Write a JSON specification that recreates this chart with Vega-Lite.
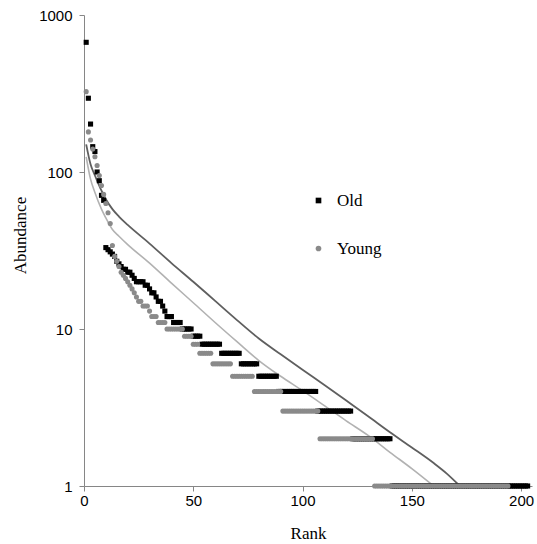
{
"$schema":"https://vega.github.io/schema/vega-lite/v6.json",
"width":448,"height":471,
"autosize":"none",
"padding":{"left":84,"top":15,"right":5,"bottom":58},
"background":"white",
"config":{"view":{"stroke":null},"axis":{"grid":false,"domainColor":"#868686","tickColor":"#868686","labelFont":"Liberation Sans","labelFontSize":15,"labelColor":"#000000","titleFont":"Liberation Serif","titleFontSize":17,"titleFontWeight":"normal","titleColor":"#000000","tickSize":5,"labelFlush":false}},
"datasets":{
"fitOld":[{"r":1,"a":150},{"r":3,"a":112},{"r":5,"a":95},{"r":8,"a":76},{"r":10,"a":67},{"r":13,"a":58},{"r":16,"a":52},{"r":20,"a":46},{"r":30,"a":35},{"r":40,"a":26.3},{"r":50,"a":20},{"r":60,"a":15.1},{"r":70,"a":11.4},{"r":80,"a":8.7},{"r":90,"a":6.9},{"r":100,"a":5.5},{"r":110,"a":4.4},{"r":120,"a":3.5},{"r":130,"a":2.78},{"r":140,"a":2.2},{"r":150,"a":1.76},{"r":160,"a":1.4},{"r":166,"a":1.2},{"r":172,"a":1.0}],
"fitYoung":[{"r":1,"a":125},{"r":3,"a":90},{"r":5,"a":74},{"r":8,"a":58},{"r":10,"a":51},{"r":13,"a":43},{"r":16,"a":39},{"r":20,"a":34.5},{"r":30,"a":26.3},{"r":40,"a":19.6},{"r":50,"a":14.7},{"r":60,"a":11},{"r":70,"a":8.3},{"r":80,"a":6.3},{"r":90,"a":5.0},{"r":100,"a":4.05},{"r":110,"a":3.25},{"r":120,"a":2.6},{"r":130,"a":2.1},{"r":140,"a":1.64},{"r":150,"a":1.29},{"r":160,"a":1.0}],
"pts":[
{"s":"Old","r":1,"a":670},{"s":"Old","r":2,"a":295},{"s":"Old","r":3,"a":202},{"s":"Old","r":4,"a":145},{"s":"Old","r":5,"a":135},{"s":"Old","r":6,"a":100},{"s":"Old","r":7,"a":88},{"s":"Old","r":8,"a":71},{"s":"Old","r":9,"a":66},{"s":"Old","r":10,"a":33},
{"s":"Old","r":11,"a":32},{"s":"Old","r":12,"a":31},{"s":"Old","r":13,"a":30},{"s":"Old","r":14,"a":29},{"s":"Old","r":15,"a":27},{"s":"Old","r":16,"a":26},{"s":"Old","r":17,"a":25},{"s":"Old","r":18,"a":24},{"s":"Old","r":19,"a":24},{"s":"Old","r":20,"a":23},
{"s":"Old","r":21,"a":23},{"s":"Old","r":22,"a":22},{"s":"Old","r":23,"a":21},{"s":"Old","r":24,"a":20},{"s":"Old","r":25,"a":20},{"s":"Old","r":26,"a":20},{"s":"Old","r":27,"a":20},{"s":"Old","r":28,"a":19},{"s":"Old","r":29,"a":19},{"s":"Old","r":30,"a":18},
{"s":"Old","r":31,"a":17},{"s":"Old","r":32,"a":17},{"s":"Old","r":33,"a":16},{"s":"Old","r":34,"a":15},{"s":"Old","r":35,"a":15},{"s":"Old","r":36,"a":14},{"s":"Old","r":37,"a":13},{"s":"Old","r":38,"a":12},{"s":"Old","r":39,"a":12},{"s":"Old","r":40,"a":12},
{"s":"Old","r":41,"a":11},{"s":"Old","r":42,"a":11},{"s":"Old","r":43,"a":11},{"s":"Old","r":44,"a":11},{"s":"Old","r":45,"a":10},{"s":"Old","r":46,"a":10},{"s":"Old","r":47,"a":10},{"s":"Old","r":48,"a":10},{"s":"Old","r":49,"a":10},{"s":"Old","r":50,"a":9},
{"s":"Old","r":51,"a":9},{"s":"Old","r":52,"a":9},{"s":"Old","r":53,"a":9},{"s":"Old","r":54,"a":8},{"s":"Old","r":55,"a":8},{"s":"Old","r":56,"a":8},{"s":"Old","r":57,"a":8},{"s":"Old","r":58,"a":8},{"s":"Old","r":59,"a":8},{"s":"Old","r":60,"a":8},
{"s":"Old","r":61,"a":8},{"s":"Old","r":62,"a":8},{"s":"Old","r":63,"a":7},{"s":"Old","r":64,"a":7},{"s":"Old","r":65,"a":7},{"s":"Old","r":66,"a":7},{"s":"Old","r":67,"a":7},{"s":"Old","r":68,"a":7},{"s":"Old","r":69,"a":7},{"s":"Old","r":70,"a":7},
{"s":"Old","r":71,"a":7},{"s":"Old","r":72,"a":6},{"s":"Old","r":73,"a":6},{"s":"Old","r":74,"a":6},{"s":"Old","r":75,"a":6},{"s":"Old","r":76,"a":6},{"s":"Old","r":77,"a":6},{"s":"Old","r":78,"a":6},{"s":"Old","r":79,"a":6},{"s":"Old","r":80,"a":5},
{"s":"Old","r":81,"a":5},{"s":"Old","r":82,"a":5},{"s":"Old","r":83,"a":5},{"s":"Old","r":84,"a":5},{"s":"Old","r":85,"a":5},{"s":"Old","r":86,"a":5},{"s":"Old","r":87,"a":5},{"s":"Old","r":88,"a":5},{"s":"Old","r":89,"a":4},{"s":"Old","r":90,"a":4},
{"s":"Old","r":91,"a":4},{"s":"Old","r":92,"a":4},{"s":"Old","r":93,"a":4},{"s":"Old","r":94,"a":4},{"s":"Old","r":95,"a":4},{"s":"Old","r":96,"a":4},{"s":"Old","r":97,"a":4},{"s":"Old","r":98,"a":4},{"s":"Old","r":99,"a":4},{"s":"Old","r":100,"a":4},
{"s":"Old","r":101,"a":4},{"s":"Old","r":102,"a":4},{"s":"Old","r":103,"a":4},{"s":"Old","r":104,"a":4},{"s":"Old","r":105,"a":4},{"s":"Old","r":106,"a":4},{"s":"Old","r":107,"a":3},{"s":"Old","r":108,"a":3},{"s":"Old","r":109,"a":3},{"s":"Old","r":110,"a":3},
{"s":"Old","r":111,"a":3},{"s":"Old","r":112,"a":3},{"s":"Old","r":113,"a":3},{"s":"Old","r":114,"a":3},{"s":"Old","r":115,"a":3},{"s":"Old","r":116,"a":3},{"s":"Old","r":117,"a":3},{"s":"Old","r":118,"a":3},{"s":"Old","r":119,"a":3},{"s":"Old","r":120,"a":3},
{"s":"Old","r":121,"a":3},{"s":"Old","r":122,"a":3},{"s":"Old","r":123,"a":2},{"s":"Old","r":124,"a":2},{"s":"Old","r":125,"a":2},{"s":"Old","r":126,"a":2},{"s":"Old","r":127,"a":2},{"s":"Old","r":128,"a":2},{"s":"Old","r":129,"a":2},{"s":"Old","r":130,"a":2},
{"s":"Old","r":131,"a":2},{"s":"Old","r":132,"a":2},{"s":"Old","r":133,"a":2},{"s":"Old","r":134,"a":2},{"s":"Old","r":135,"a":2},{"s":"Old","r":136,"a":2},{"s":"Old","r":137,"a":2},{"s":"Old","r":138,"a":2},{"s":"Old","r":139,"a":2},{"s":"Old","r":140,"a":2},
{"s":"Old","r":141,"a":1},{"s":"Old","r":142,"a":1},{"s":"Old","r":143,"a":1},{"s":"Old","r":144,"a":1},{"s":"Old","r":145,"a":1},{"s":"Old","r":146,"a":1},{"s":"Old","r":147,"a":1},{"s":"Old","r":148,"a":1},{"s":"Old","r":149,"a":1},{"s":"Old","r":150,"a":1},
{"s":"Old","r":151,"a":1},{"s":"Old","r":152,"a":1},{"s":"Old","r":153,"a":1},{"s":"Old","r":154,"a":1},{"s":"Old","r":155,"a":1},{"s":"Old","r":156,"a":1},{"s":"Old","r":157,"a":1},{"s":"Old","r":158,"a":1},{"s":"Old","r":159,"a":1},{"s":"Old","r":160,"a":1},
{"s":"Old","r":161,"a":1},{"s":"Old","r":162,"a":1},{"s":"Old","r":163,"a":1},{"s":"Old","r":164,"a":1},{"s":"Old","r":165,"a":1},{"s":"Old","r":166,"a":1},{"s":"Old","r":167,"a":1},{"s":"Old","r":168,"a":1},{"s":"Old","r":169,"a":1},{"s":"Old","r":170,"a":1},
{"s":"Old","r":171,"a":1},{"s":"Old","r":172,"a":1},{"s":"Old","r":173,"a":1},{"s":"Old","r":174,"a":1},{"s":"Old","r":175,"a":1},{"s":"Old","r":176,"a":1},{"s":"Old","r":177,"a":1},{"s":"Old","r":178,"a":1},{"s":"Old","r":179,"a":1},{"s":"Old","r":180,"a":1},
{"s":"Old","r":181,"a":1},{"s":"Old","r":182,"a":1},{"s":"Old","r":183,"a":1},{"s":"Old","r":184,"a":1},{"s":"Old","r":185,"a":1},{"s":"Old","r":186,"a":1},{"s":"Old","r":187,"a":1},{"s":"Old","r":188,"a":1},{"s":"Old","r":189,"a":1},{"s":"Old","r":190,"a":1},
{"s":"Old","r":191,"a":1},{"s":"Old","r":192,"a":1},{"s":"Old","r":193,"a":1},{"s":"Old","r":194,"a":1},{"s":"Old","r":195,"a":1},{"s":"Old","r":196,"a":1},{"s":"Old","r":197,"a":1},{"s":"Old","r":198,"a":1},{"s":"Old","r":199,"a":1},{"s":"Old","r":200,"a":1},
{"s":"Old","r":201,"a":1},{"s":"Old","r":202,"a":1},{"s":"Old","r":203,"a":1},
{"s":"Young","r":1,"a":325},{"s":"Young","r":2,"a":180},{"s":"Young","r":3,"a":160},{"s":"Young","r":4,"a":140},{"s":"Young","r":5,"a":125},{"s":"Young","r":6,"a":110},{"s":"Young","r":7,"a":95},{"s":"Young","r":8,"a":82},{"s":"Young","r":9,"a":72},{"s":"Young","r":10,"a":63},
{"s":"Young","r":11,"a":55},{"s":"Young","r":12,"a":47},{"s":"Young","r":13,"a":34},{"s":"Young","r":14,"a":29},{"s":"Young","r":15,"a":27},{"s":"Young","r":16,"a":25},{"s":"Young","r":17,"a":23},{"s":"Young","r":18,"a":22},{"s":"Young","r":19,"a":21},{"s":"Young","r":20,"a":20},
{"s":"Young","r":21,"a":19},{"s":"Young","r":22,"a":18},{"s":"Young","r":23,"a":17},{"s":"Young","r":24,"a":16},{"s":"Young","r":25,"a":15},{"s":"Young","r":26,"a":15},{"s":"Young","r":27,"a":14},{"s":"Young","r":28,"a":14},{"s":"Young","r":29,"a":14},{"s":"Young","r":30,"a":13},
{"s":"Young","r":31,"a":12},{"s":"Young","r":32,"a":12},{"s":"Young","r":33,"a":12},{"s":"Young","r":34,"a":11},{"s":"Young","r":35,"a":11},{"s":"Young","r":36,"a":11},{"s":"Young","r":37,"a":11},{"s":"Young","r":38,"a":10},{"s":"Young","r":39,"a":10},{"s":"Young","r":40,"a":10},
{"s":"Young","r":41,"a":10},{"s":"Young","r":42,"a":10},{"s":"Young","r":43,"a":10},{"s":"Young","r":44,"a":10},{"s":"Young","r":45,"a":10},{"s":"Young","r":46,"a":9},{"s":"Young","r":47,"a":9},{"s":"Young","r":48,"a":9},{"s":"Young","r":49,"a":9},{"s":"Young","r":50,"a":8},
{"s":"Young","r":51,"a":8},{"s":"Young","r":52,"a":8},{"s":"Young","r":53,"a":7},{"s":"Young","r":54,"a":7},{"s":"Young","r":55,"a":7},{"s":"Young","r":56,"a":7},{"s":"Young","r":57,"a":7},{"s":"Young","r":58,"a":7},{"s":"Young","r":59,"a":6},{"s":"Young","r":60,"a":6},
{"s":"Young","r":61,"a":6},{"s":"Young","r":62,"a":6},{"s":"Young","r":63,"a":6},{"s":"Young","r":64,"a":6},{"s":"Young","r":65,"a":6},{"s":"Young","r":66,"a":6},{"s":"Young","r":67,"a":6},{"s":"Young","r":68,"a":5},{"s":"Young","r":69,"a":5},{"s":"Young","r":70,"a":5},
{"s":"Young","r":71,"a":5},{"s":"Young","r":72,"a":5},{"s":"Young","r":73,"a":5},{"s":"Young","r":74,"a":5},{"s":"Young","r":75,"a":5},{"s":"Young","r":76,"a":5},{"s":"Young","r":77,"a":5},{"s":"Young","r":78,"a":4},{"s":"Young","r":79,"a":4},{"s":"Young","r":80,"a":4},
{"s":"Young","r":81,"a":4},{"s":"Young","r":82,"a":4},{"s":"Young","r":83,"a":4},{"s":"Young","r":84,"a":4},{"s":"Young","r":85,"a":4},{"s":"Young","r":86,"a":4},{"s":"Young","r":87,"a":4},{"s":"Young","r":88,"a":4},{"s":"Young","r":89,"a":4},{"s":"Young","r":90,"a":4},
{"s":"Young","r":91,"a":3},{"s":"Young","r":92,"a":3},{"s":"Young","r":93,"a":3},{"s":"Young","r":94,"a":3},{"s":"Young","r":95,"a":3},{"s":"Young","r":96,"a":3},{"s":"Young","r":97,"a":3},{"s":"Young","r":98,"a":3},{"s":"Young","r":99,"a":3},{"s":"Young","r":100,"a":3},
{"s":"Young","r":101,"a":3},{"s":"Young","r":102,"a":3},{"s":"Young","r":103,"a":3},{"s":"Young","r":104,"a":3},{"s":"Young","r":105,"a":3},{"s":"Young","r":106,"a":3},{"s":"Young","r":107,"a":3},{"s":"Young","r":108,"a":2},{"s":"Young","r":109,"a":2},{"s":"Young","r":110,"a":2},
{"s":"Young","r":111,"a":2},{"s":"Young","r":112,"a":2},{"s":"Young","r":113,"a":2},{"s":"Young","r":114,"a":2},{"s":"Young","r":115,"a":2},{"s":"Young","r":116,"a":2},{"s":"Young","r":117,"a":2},{"s":"Young","r":118,"a":2},{"s":"Young","r":119,"a":2},{"s":"Young","r":120,"a":2},
{"s":"Young","r":121,"a":2},{"s":"Young","r":122,"a":2},{"s":"Young","r":123,"a":2},{"s":"Young","r":124,"a":2},{"s":"Young","r":125,"a":2},{"s":"Young","r":126,"a":2},{"s":"Young","r":127,"a":2},{"s":"Young","r":128,"a":2},{"s":"Young","r":129,"a":2},{"s":"Young","r":130,"a":2},
{"s":"Young","r":131,"a":2},{"s":"Young","r":132,"a":2},{"s":"Young","r":133,"a":1},{"s":"Young","r":134,"a":1},{"s":"Young","r":135,"a":1},{"s":"Young","r":136,"a":1},{"s":"Young","r":137,"a":1},{"s":"Young","r":138,"a":1},{"s":"Young","r":139,"a":1},{"s":"Young","r":140,"a":1},
{"s":"Young","r":141,"a":1},{"s":"Young","r":142,"a":1},{"s":"Young","r":143,"a":1},{"s":"Young","r":144,"a":1},{"s":"Young","r":145,"a":1},{"s":"Young","r":146,"a":1},{"s":"Young","r":147,"a":1},{"s":"Young","r":148,"a":1},{"s":"Young","r":149,"a":1},{"s":"Young","r":150,"a":1},
{"s":"Young","r":151,"a":1},{"s":"Young","r":152,"a":1},{"s":"Young","r":153,"a":1},{"s":"Young","r":154,"a":1},{"s":"Young","r":155,"a":1},{"s":"Young","r":156,"a":1},{"s":"Young","r":157,"a":1},{"s":"Young","r":158,"a":1},{"s":"Young","r":159,"a":1},{"s":"Young","r":160,"a":1},
{"s":"Young","r":161,"a":1},{"s":"Young","r":162,"a":1},{"s":"Young","r":163,"a":1},{"s":"Young","r":164,"a":1},{"s":"Young","r":165,"a":1},{"s":"Young","r":166,"a":1},{"s":"Young","r":167,"a":1},{"s":"Young","r":168,"a":1},{"s":"Young","r":169,"a":1},{"s":"Young","r":170,"a":1},
{"s":"Young","r":171,"a":1},{"s":"Young","r":172,"a":1},{"s":"Young","r":173,"a":1},{"s":"Young","r":174,"a":1},{"s":"Young","r":175,"a":1},{"s":"Young","r":176,"a":1},{"s":"Young","r":177,"a":1},{"s":"Young","r":178,"a":1},{"s":"Young","r":179,"a":1},{"s":"Young","r":180,"a":1},
{"s":"Young","r":181,"a":1},{"s":"Young","r":182,"a":1},{"s":"Young","r":183,"a":1},{"s":"Young","r":184,"a":1},{"s":"Young","r":185,"a":1},{"s":"Young","r":186,"a":1},{"s":"Young","r":187,"a":1},{"s":"Young","r":188,"a":1},{"s":"Young","r":189,"a":1},{"s":"Young","r":190,"a":1},
{"s":"Young","r":191,"a":1},{"s":"Young","r":192,"a":1},{"s":"Young","r":193,"a":1},{"s":"Young","r":194,"a":1}
]},
"encoding":{
"x":{"field":"r","type":"quantitative","scale":{"domain":[0,205],"nice":false,"zero":false},"axis":{"values":[0,50,100,150,200],"title":"Rank","labelPadding":2,"titlePadding":17}},
"y":{"field":"a","type":"quantitative","scale":{"type":"log","domain":[1,1000],"nice":false},"axis":{"values":[1,10,100,1000],"format":"d","title":"Abundance","labelPadding":7,"titleAngle":-90,"titleX":-64,"titleY":220,"titleBaseline":"middle","titleAlign":"center"}}
},
"layer":[
{"data":{"name":"fitOld"},"mark":{"type":"line","interpolate":"monotone","strokeWidth":1.8,"color":"#5f5f5f"}},
{"data":{"name":"fitYoung"},"mark":{"type":"line","interpolate":"monotone","strokeWidth":1.6,"color":"#b2b2b2"}},
{"data":{"name":"pts"},"mark":{"type":"point","filled":true,"opacity":1,"size":26},
"encoding":{
"color":{"field":"s","type":"nominal","scale":{"domain":["Old","Young"],"range":["#000000","#8a8a8a"]},"legend":{"title":null,"orient":"none","legendX":226,"legendY":177,"labelFont":"Liberation Serif","labelFontSize":17,"labelColor":"#000000","symbolSize":32,"rowPadding":30,"labelOffset":10,"padding":0,"symbolStrokeWidth":0}},
"shape":{"field":"s","type":"nominal","scale":{"domain":["Old","Young"],"range":["square","circle"]},"legend":{"title":null,"orient":"none","legendX":226,"legendY":177,"labelFont":"Liberation Serif","labelFontSize":17,"labelColor":"#000000","symbolSize":32,"rowPadding":30,"labelOffset":10,"padding":0,"symbolStrokeWidth":0}}
}}
]
}
